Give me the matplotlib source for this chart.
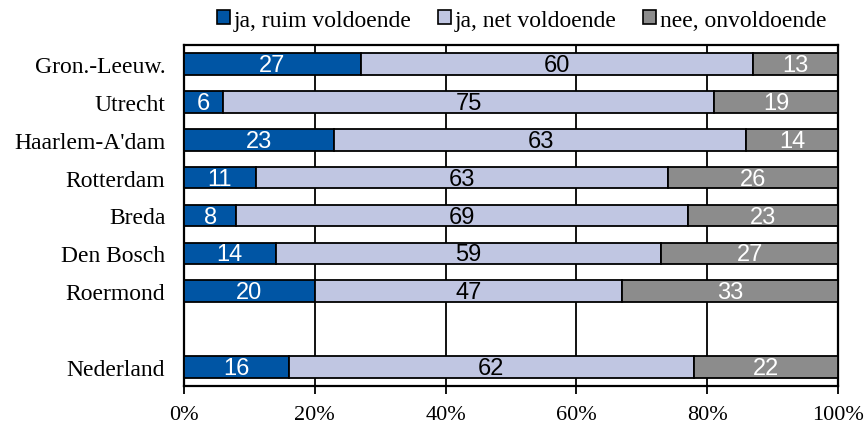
import numpy as np
import matplotlib.pyplot as plt

regions = ['Gron.-Leeuw.', 'Utrecht', "Haarlem-A'dam", 'Rotterdam', 'Breda',
           'Den Bosch', 'Roermond', '', 'Nederland']
ruim = [27, 6, 23, 11, 8, 14, 20, None, 16]
net = [60, 75, 63, 63, 69, 59, 47, None, 62]
onv = [13, 19, 14, 26, 23, 27, 33, None, 22]
series_names = ['ja, ruim voldoende', 'ja, net voldoende', 'nee, onvoldoende']
colors = ['#0055a4', '#c0c6e2', '#8c8c8c']
text_colors = ['white', 'black', 'white']

serif = 'Liberation Serif'
num_font = ['Liberation Sans', 'DejaVu Sans']

fig = plt.figure(figsize=(8.68, 4.27), dpi=100)
ax = fig.add_axes([0.212, 0.094, 0.7535, 0.798])

y = np.arange(len(regions))
ax.set_axisbelow(True)
ax.xaxis.grid(True, color='black', linewidth=1.3)

for i, y_i in enumerate(y):
    if ruim[i] is None:
        continue
    left = 0
    for j, vals in enumerate([ruim, net, onv]):
        v = vals[i]
        ax.barh(y_i, v, left=left, height=0.57, color=colors[j],
                edgecolor='black', linewidth=1.3, zorder=3)
        ax.text(left + v / 2, y_i + 0.03, str(v), ha='center', va='center',
                color=text_colors[j], fontsize=17, family=num_font, zorder=4)
        left += v

handles = [plt.Rectangle((0, 0), 1, 1, facecolor=colors[j], edgecolor='black',
                         linewidth=1.2) for j in range(3)]

ax.set_xlim(0, 100)
ax.set_ylim(len(regions) - 0.5, -0.5)
ax.set_yticks(y)
ax.set_yticklabels(regions, family=serif, fontsize=17)
ax.set_xticks(np.arange(0, 101, 20))
ax.set_xticklabels([f'{v}%' for v in range(0, 101, 20)], family=serif, fontsize=16)
ax.tick_params(axis='y', length=0, pad=13.5)
ax.tick_params(axis='x', length=6, width=1.3, pad=8)
for s in ax.spines.values():
    s.set_linewidth(1.6)

fig.legend(handles, series_names, loc='upper center', bbox_to_anchor=(0.601, 1.025),
           ncol=3, frameon=False, handlelength=0.55, handleheight=0.55,
           handletextpad=0.17, columnspacing=1.1, prop={'family': serif, 'size': 17})

fig.savefig('out.png', dpi=100)
